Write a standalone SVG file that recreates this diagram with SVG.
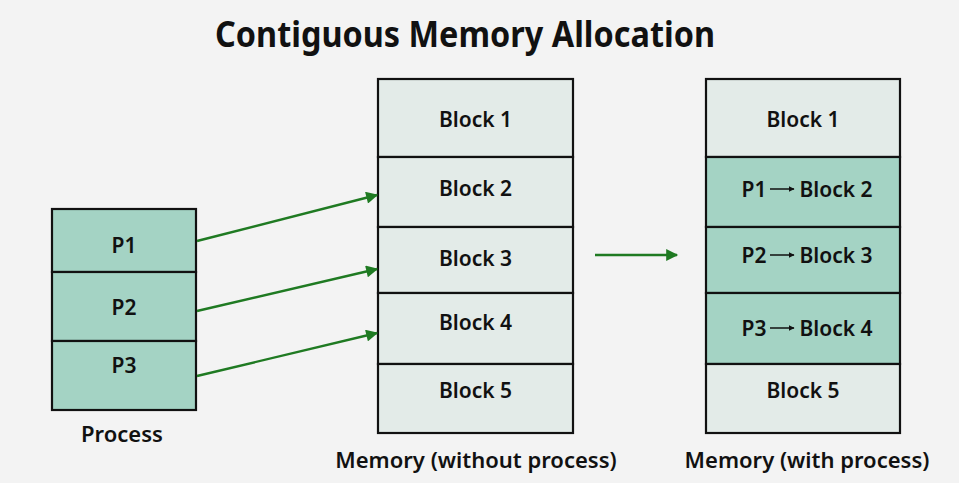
<svg xmlns="http://www.w3.org/2000/svg" width="959" height="483" viewBox="0 0 959 483">
<defs>
<marker id="ah" viewBox="0 0 10 10" refX="9" refY="5" markerWidth="5.5" markerHeight="5" orient="auto" markerUnits="strokeWidth"><path d="M0,0 L10,5 L0,10 z" fill="#1f7a22"/></marker>
<marker id="sm" viewBox="0 0 10 10" refX="9" refY="5" markerWidth="4" markerHeight="4" orient="auto" markerUnits="strokeWidth"><path d="M0,0 L10,5 L0,10 z" fill="#111"/></marker>
</defs>
<style>
.t{font-family:"Noto Sans","Open Sans","Liberation Sans",sans-serif;font-weight:600;fill:#111;font-size:21px;text-anchor:middle}
.cap{font-size:22px}
.lt{fill:#e3ebe8;stroke:#111;stroke-width:2.2}
.gr{fill:#a4d3c4;stroke:#111;stroke-width:2.2}
.con{stroke:#1f7a22;stroke-width:2.4;fill:none;marker-end:url(#ah)}
.inl{stroke:#111;stroke-width:1.5;fill:none;marker-end:url(#sm)}
</style>
<rect width="959" height="483" fill="#f3f3f3"/>
<text x="465" y="47" font-family="'Noto Sans','Open Sans','Liberation Sans',sans-serif" font-weight="700" font-size="35" text-anchor="middle" fill="#111" textLength="500" lengthAdjust="spacingAndGlyphs">Contiguous Memory Allocation</text>

<g id="process">
<rect class="gr" x="52" y="209" width="144" height="63"/>
<rect class="gr" x="52" y="272" width="144" height="69"/>
<rect class="gr" x="52" y="341" width="144" height="69"/>
<text class="t" x="124" y="253">P1</text>
<text class="t" x="124" y="315">P2</text>
<text class="t" x="124" y="373">P3</text>
<text class="t cap" x="122" y="442">Process</text>
</g>

<g id="memory-without">
<rect class="lt" x="378" y="79" width="195" height="78"/>
<rect class="lt" x="378" y="157" width="195" height="70"/>
<rect class="lt" x="378" y="227" width="195" height="66"/>
<rect class="lt" x="378" y="293" width="195" height="71"/>
<rect class="lt" x="378" y="364" width="195" height="69"/>
<text class="t" x="475.5" y="127">Block 1</text>
<text class="t" x="475.5" y="196">Block 2</text>
<text class="t" x="475.5" y="266">Block 3</text>
<text class="t" x="475.5" y="330">Block 4</text>
<text class="t" x="475.5" y="398">Block 5</text>
<text class="t cap" x="476" y="468">Memory (without process)</text>
</g>

<g id="memory-with">
<rect class="lt" x="706" y="79" width="194" height="78"/>
<rect class="gr" x="706" y="157" width="194" height="70"/>
<rect class="gr" x="706" y="227" width="194" height="66"/>
<rect class="gr" x="706" y="293" width="194" height="71"/>
<rect class="lt" x="706" y="364" width="194" height="69"/>
<text class="t" x="803" y="127">Block 1</text>
<text class="t" x="754" y="197">P1</text>
<text class="t" x="836" y="197">Block 2</text>
<text class="t" x="754" y="263">P2</text>
<text class="t" x="836" y="263">Block 3</text>
<text class="t" x="754" y="336">P3</text>
<text class="t" x="836" y="336">Block 4</text>
<text class="t" x="803" y="398">Block 5</text>
<path class="inl" d="M770,189 L794,189"/>
<path class="inl" d="M770,255 L794,255"/>
<path class="inl" d="M770,328 L794,328"/>
<text class="t cap" x="807" y="468">Memory (with process)</text>
</g>

<g id="connectors">
<path class="con" d="M197,241 L377,195"/>
<path class="con" d="M197,311 L377,269"/>
<path class="con" d="M197,376 L377,333"/>
<path class="con" d="M595,255 L677,255"/>
</g>
</svg>
